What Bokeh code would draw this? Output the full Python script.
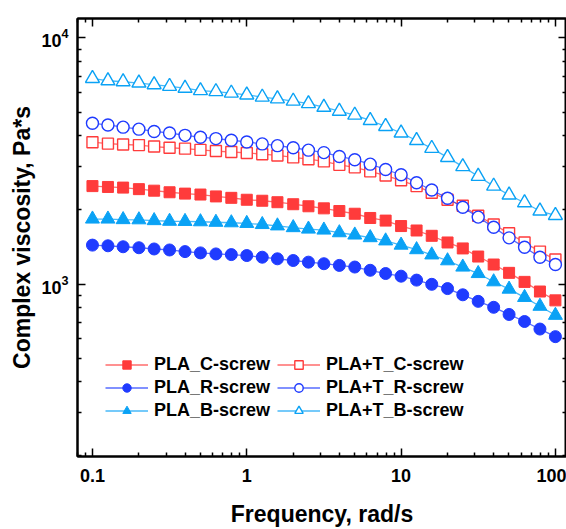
from bokeh.plotting import figure
from bokeh.models import (FixedTicker, LogAxis, Legend, LegendItem,
                          CustomJSTickFormatter, Range1d)
from bokeh.embed import file_html
from bokeh.resources import INLINE

freq = [0.1, 0.126, 0.158, 0.2, 0.251, 0.316, 0.398, 0.501, 0.631, 0.794,
        1, 1.26, 1.58, 2, 2.51, 3.16, 3.98, 5.01, 6.31, 7.94,
        10, 12.6, 15.8, 20, 25.1, 31.6, 39.8, 50.1, 63.1, 79.4, 100]

pla_c = [2500, 2480, 2465, 2430, 2395, 2360, 2330, 2310, 2270, 2240, 2200, 2180,
         2150, 2110, 2070, 2030, 1980, 1930, 1855, 1810, 1720, 1650, 1570, 1475,
         1395, 1293, 1200, 1110, 1020, 932, 858]
pla_r = [1439, 1430, 1417, 1404, 1388, 1375, 1354, 1338, 1325, 1317, 1305, 1285,
         1266, 1246, 1227, 1209, 1190, 1172, 1137, 1103, 1076, 1037, 997, 958,
         904, 850, 804, 752, 704, 656, 611]
pla_b = [1837, 1837, 1827, 1824, 1810, 1799, 1796, 1791, 1782, 1774, 1763, 1745,
         1723, 1695, 1672, 1657, 1616, 1582, 1543, 1497, 1439, 1379, 1313, 1243,
         1172, 1103, 1021, 953, 882, 812, 746]
plat_c = [3770, 3720, 3690, 3670, 3620, 3580, 3550, 3510, 3470, 3440, 3410, 3370,
          3330, 3270, 3215, 3150, 3050, 2980, 2870, 2760, 2640, 2500, 2350, 2200,
          2080, 1895, 1745, 1607, 1474, 1354, 1258]
plat_r = [4500, 4430, 4340, 4260, 4170, 4110, 4020, 3950, 3900, 3840, 3780, 3710,
          3650, 3580, 3500, 3420, 3300, 3200, 3070, 2920, 2780, 2580, 2410, 2230,
          2050, 1870, 1700, 1540, 1410, 1285, 1200]
plat_b = [6850, 6700, 6640, 6560, 6460, 6360, 6250, 6110, 6055, 5970, 5870, 5750,
          5660, 5540, 5410, 5230, 5040, 4860, 4620, 4370, 4110, 3830, 3560, 3270,
          3000, 2740, 2500, 2300, 2140, 1980, 1900]

names = ["PLA_C-screw", "PLA_R-screw", "PLA_B-screw",
         "PLA+T_C-screw", "PLA+T_R-screw", "PLA+T_B-screw"]

x_major = [0.1, 1, 10, 100]
x_minor = [0.08, 0.09, 0.2, 0.3, 0.4, 0.5, 0.6, 0.7, 0.8, 0.9,
           2, 3, 4, 5, 6, 7, 8, 9, 20, 30, 40, 50, 60, 70, 80, 90]
y_major = [1000, 10000]
y_minor = [200, 300, 400, 500, 600, 700, 800, 900,
           2000, 3000, 4000, 5000, 6000, 7000, 8000, 9000]

RED = "#FF3B3B"
BLUE = "#1F3BFF"
LBLUE = "#0AA2F5"
FONT = "Liberation Sans"

p = figure(width=566, height=529, x_axis_type="log", y_axis_type="log",
           x_range=Range1d(0.08, 118), y_range=Range1d(199, 12000),
           output_backend="svg", toolbar_location=None,
           min_border_left=77, min_border_right=0, min_border_top=18,
           min_border_bottom=64)
p.grid.visible = False
p.outline_line_color = "black"
p.outline_line_width = 2
p.background_fill_color = "white"
p.border_fill_color = "white"

xt = FixedTicker(ticks=x_major, minor_ticks=x_minor)
yt = FixedTicker(ticks=y_major, minor_ticks=y_minor)

def style_axis(ax):
    ax.axis_line_width = 2
    ax.axis_line_color = "black"
    ax.major_tick_in = 8
    ax.major_tick_out = 0
    ax.minor_tick_in = 4
    ax.minor_tick_out = 0
    ax.major_tick_line_width = 1.5
    ax.minor_tick_line_width = 1.5
    ax.major_label_text_font = FONT
    ax.major_label_text_font_style = "bold"
    ax.major_label_text_font_size = "18px"
    ax.major_label_text_color = "black"
    ax.axis_label_text_font = FONT
    ax.axis_label_text_font_style = "bold"
    ax.axis_label_text_font_size = "23px"
    ax.axis_label_text_color = "black"

xa = p.xaxis[0]
xa.ticker = xt
xa.formatter = CustomJSTickFormatter(code="return tick < 1 ? tick.toFixed(1) : tick.toFixed(0);")
style_axis(xa)
xa.major_label_standoff = 12
xa.axis_label = "Frequency, rad/s"
xa.axis_label_standoff = 16

ya = p.yaxis[0]
ya.ticker = yt
style_axis(ya)
ya.major_label_standoff = 9
ya.axis_label = "Complex viscosity, Pa*s"
ya.axis_label_standoff = 3

blank = "return '';"
top = LogAxis(ticker=xt, formatter=CustomJSTickFormatter(code=blank))
style_axis(top)
top.major_label_standoff = 0
top.major_label_text_font_size = "0px"
p.add_layout(top, "above")
right = LogAxis(ticker=yt, formatter=CustomJSTickFormatter(code=blank))
style_axis(right)
right.major_label_standoff = 0
right.major_label_text_font_size = "0px"
p.add_layout(right, "right")

series = [
    (pla_c, RED, "square", True, 11),
    (pla_r, BLUE, "circle", True, 12),
    (pla_b, LBLUE, "triangle", True, 14),
    (plat_c, RED, "square", False, 11),
    (plat_r, BLUE, "circle", False, 12),
    (plat_b, LBLUE, "triangle", False, 14),
]

items = []
for name, (vals, col, mk, filled, sz) in zip(names, series):
    ln = p.line(freq, vals, line_color=col, line_width=1.3, line_alpha=0.75)
    sc = p.scatter(freq, vals, marker=mk, size=sz, line_color=col,
                   line_width=1.4 if not filled else 1,
                   fill_color=col if filled else "white")
    items.append(LegendItem(label=name, renderers=[ln, sc]))

def make_legend(its, loc):
    lg = Legend(items=its, location=loc, orientation="vertical")
    lg.border_line_color = None
    lg.background_fill_alpha = 0
    lg.padding = 0
    lg.margin = 0
    lg.spacing = 2
    lg.glyph_width = 43
    lg.glyph_height = 21
    lg.label_height = 21
    lg.label_standoff = 6
    lg.label_text_font = FONT
    lg.label_text_font_style = "bold"
    lg.label_text_font_size = "18px"
    lg.label_text_color = "black"
    return lg

p.add_layout(make_legend(items[:3], (28, 35)))
p.add_layout(make_legend(items[3:], (200, 35)))

open("out.html", "w").write(file_html(p, INLINE))
